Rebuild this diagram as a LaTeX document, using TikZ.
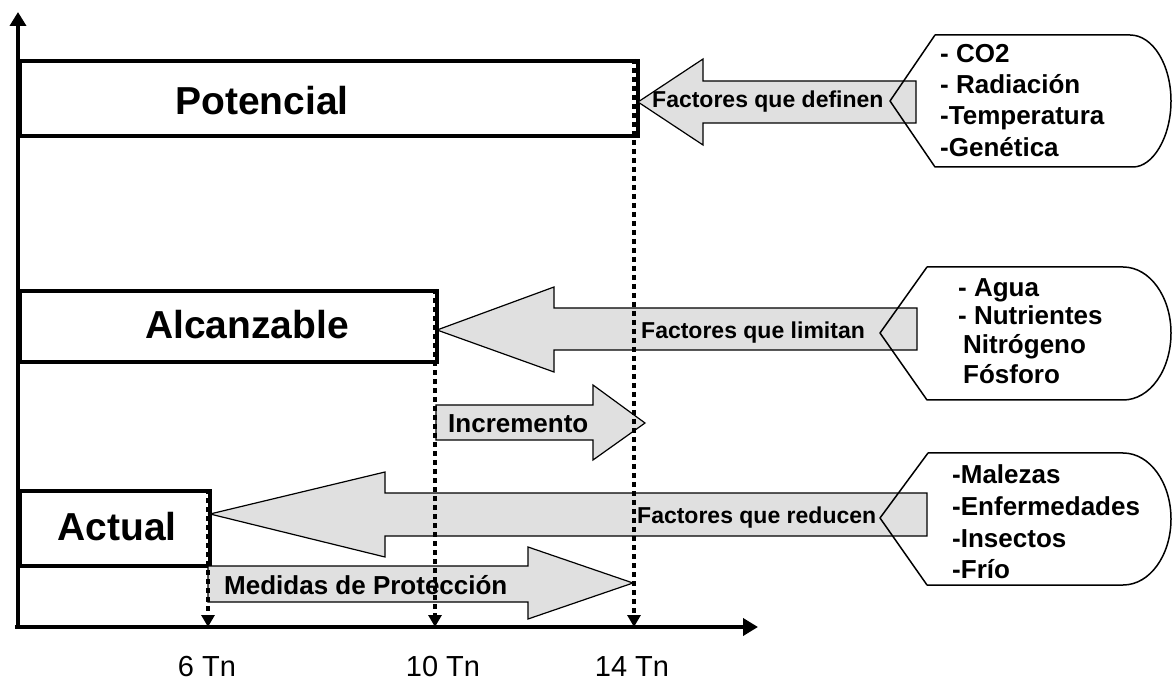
\documentclass[tikz,border=0pt]{standalone}
\usepackage{fontspec}
\setmainfont{Liberation Sans}
\usetikzlibrary{arrows.meta}
\definecolor{arrowgray}{RGB}{224,224,224}
\begin{document}
\begin{tikzpicture}[x=1pt,y=-1pt,
  axis/.style={line width=4pt},
  box/.style={draw, line width=4pt, inner sep=0pt, anchor=north west},
  garrow/.style={draw, fill=arrowgray, line width=1.2pt, line join=miter},
  callout/.style={draw, line width=1.5pt, line join=round},
  guide/.style={line width=4pt, dash pattern=on 5pt off 4pt, -{Triangle[length=12pt,width=13pt]}},
  big/.style={font=\fontsize{39}{39}\selectfont\bfseries, inner sep=0pt, anchor=base},
  mid/.style={font=\fontsize{23}{23}\selectfont\bfseries, inner sep=0pt, anchor=base west},
  list/.style={font=\fontsize{26}{26}\selectfont\bfseries, inner sep=0pt, anchor=base west},
  tick/.style={font=\fontsize{29}{29}\selectfont, inner sep=0pt, anchor=base},
]
\useasboundingbox (0,0) rectangle (1173,684);

% boxes
\node[box, minimum width=618pt, minimum height=75pt] (pot) at (18,59) {};
\node[box, minimum width=417pt, minimum height=71pt] (alc) at (18,289) {};
\node[box, minimum width=190pt, minimum height=75pt] (act) at (18,489) {};

% gray arrows
\draw[garrow] (638,102) -- (703,59) -- (703,81) -- (916,81) -- (916,123) -- (703,123) -- (703,145) -- cycle;
\draw[garrow] (437,330) -- (554,287) -- (554,308) -- (917,308) -- (917,350) -- (554,350) -- (554,372) -- cycle;
\draw[garrow] (210,514) -- (385,472) -- (385,493) -- (927,493) -- (927,536) -- (385,536) -- (385,557) -- cycle;
\draw[garrow] (436,405) -- (593,405) -- (593,385) -- (645,423) -- (593,460) -- (593,440) -- (436,440) -- cycle;
\draw[garrow] (208,566) -- (528,566) -- (528,547) -- (633,583) -- (528,619) -- (528,602) -- (208,602) -- cycle;

% labels
\node[big] (potl) at (262,115) {Potencial};
\node[big] (alcl) at (247,339) {Alcanzable};
\node[big] (actl) at (117,540) {Actual};
\node[mid] (fdef) at (652,108) {Factores que definen};
\node[mid] (flim) at (641,339) {Factores que limitan};
\node[mid] (fred) at (637,523) {Factores que reducen};
\node[list] (inc) at (448,433) {Incremento};
\node[list] (med) at (224,594) {Medidas de Protección};

% callouts
\draw[callout] (935,35) -- (1130,35) .. controls (1153,35) and (1171,65) .. (1171,101)
  .. controls (1171,137) and (1153,167) .. (1133,167) -- (935,167) -- (890,101) -- cycle;
\draw[callout] (927,267) -- (1123,267) .. controls (1150,267) and (1171,297) .. (1171,333)
  .. controls (1171,370) and (1150,400) .. (1123,400) -- (927,400) -- (880,333) -- cycle;
\draw[callout] (928,453) -- (1123,453) .. controls (1150,453) and (1171,483) .. (1171,519)
  .. controls (1171,555) and (1150,585) .. (1123,585) -- (927,585) -- (880,518) -- cycle;

\node[list] (c1a) at (940,63) {- CO2};
\node[list] (c1b) at (940,94) {- Radiación};
\node[list] (c1c) at (940,125) {-Temperatura};
\node[list] (c1d) at (940,157) {-Genética};

\node[list] (c2a) at (958,297) {- Agua};
\node[list] (c2b) at (958,325) {- Nutrientes};
\node[list] (c2c) at (963,354) {Nitrógeno};
\node[list] (c2d) at (963,384) {Fósforo};

\node[list] (c3a) at (952,483) {-Malezas};
\node[list] (c3b) at (952,515) {-Enfermedades};
\node[list] (c3c) at (952,547) {-Insectos};
\node[list] (c3d) at (952,578) {-Frío};

% guides
\coordinate (g6top) at (208,489);
\coordinate (g6) at (208,627);
\coordinate (g10top) at (435,289);
\coordinate (g10) at (435,627);
\coordinate (g14top) at (634,59);
\coordinate (g14) at (634,627);
\draw[guide] (g6top) -- (g6);
\draw[guide] (g10top) -- (g10);
\draw[guide] (g14top) -- (g14);

% axes
\coordinate (yb) at (18,629);
\coordinate (yt) at (18,12);
\coordinate (xl) at (15,627);
\coordinate (xr) at (758,627);
\draw[axis, -{Triangle[length=14pt,width=16pt]}] (yb) -- (yt);
\draw[axis, -{Triangle[length=15pt,width=17pt]}] (xl) -- (xr);

% tick labels
\node[tick] (t6) at (207,676) {6 Tn};
\node[tick] (t10) at (443,676) {10 Tn};
\node[tick] (t14) at (632,676) {14 Tn};
\end{tikzpicture}
\end{document}
